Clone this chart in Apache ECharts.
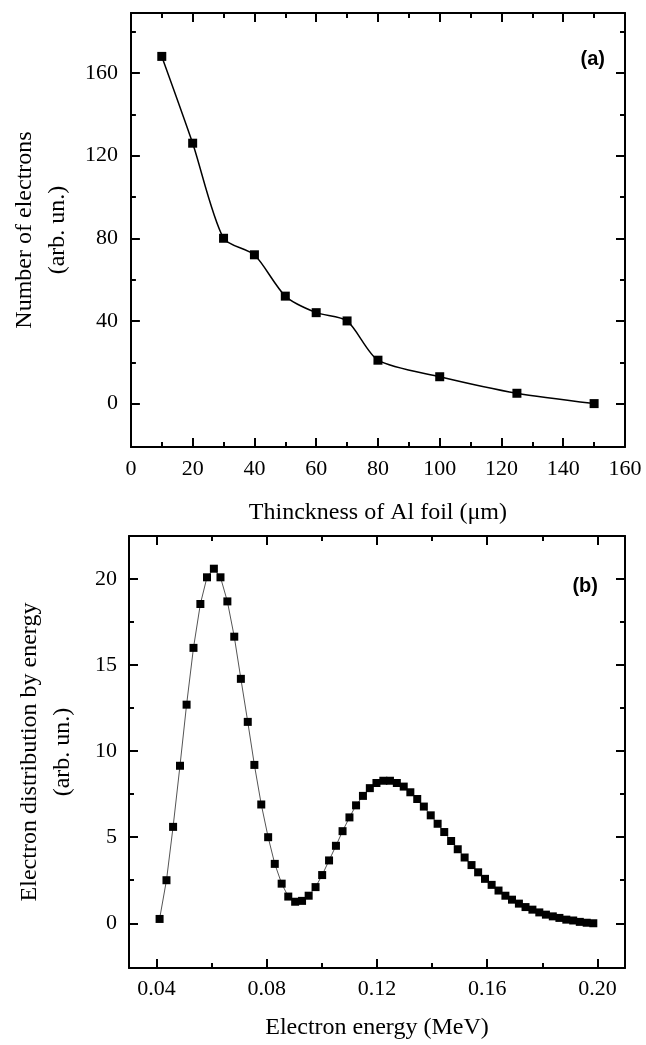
<!DOCTYPE html>
<html>
<head>
    <meta charset="utf-8">
    <script type="text/javascript" src="https://cdn.jsdelivr.net/npm/echarts@6/dist/echarts.min.js"></script>
</head>
<body style="margin: 0; background: #fff">
<div id="container" style="width: 646px; height: 1045px"></div>
<script type="text/javascript">
    // (a) number of electrons vs Al foil thickness
    var thickness = [10, 20, 30, 40, 50, 60, 70, 80, 100, 125, 150];
    var electrons = [168, 126, 80, 72, 52, 44, 40, 21, 13, 5, 0];

    // (b) electron distribution by energy
    var energy = [
        0.0411, 0.0436, 0.0460, 0.0485, 0.0509, 0.0534, 0.0559, 0.0583, 0.0608, 0.0632,
        0.0657, 0.0682, 0.0706, 0.0731, 0.0755, 0.0780, 0.0805, 0.0829, 0.0854, 0.0878,
        0.0903, 0.0928, 0.0952, 0.0977, 0.1001, 0.1026, 0.1051, 0.1075, 0.1100, 0.1124,
        0.1149, 0.1174, 0.1198, 0.1223, 0.1247, 0.1272, 0.1297, 0.1321, 0.1346, 0.1370,
        0.1395, 0.1420, 0.1444, 0.1469, 0.1493, 0.1518, 0.1543, 0.1567, 0.1592, 0.1616,
        0.1641, 0.1666, 0.1690, 0.1715, 0.1739, 0.1764, 0.1789, 0.1813, 0.1838, 0.1862,
        0.1887, 0.1912, 0.1936, 0.1961, 0.1985
    ];
    var distribution = [
        0.25, 2.5, 5.6, 9.15, 12.7, 16.0, 18.55, 20.1, 20.6, 20.1,
        18.7, 16.65, 14.2, 11.7, 9.2, 6.9, 5.0, 3.45, 2.3, 1.55,
        1.25, 1.3, 1.6, 2.1, 2.8, 3.65, 4.5, 5.35, 6.15, 6.85,
        7.4, 7.85, 8.15, 8.28, 8.28, 8.15, 7.94, 7.61, 7.22, 6.78,
        6.27, 5.78, 5.3, 4.78, 4.3, 3.82, 3.38, 2.96, 2.58, 2.23,
        1.9, 1.6, 1.37, 1.14, 0.94, 0.79, 0.63, 0.5, 0.4, 0.31,
        0.21, 0.16, 0.08, 0.03, 0.0
    ];

    // tick positions
    var yTicksA = [0, 40, 80, 120, 160];
    var yMinorA = [20, 60, 100, 140, 180];
    var yTicksB = [0, 5, 10, 15, 20];
    var yMinorB = [2.5, 7.5, 12.5, 17.5];
    var xTicksB = [0.04, 0.08, 0.12, 0.16, 0.20];
    var xMinorB = [0.06, 0.10, 0.14, 0.18];

    var serif = "'Liberation Serif', 'Times New Roman', serif";
    var black = '#000';

    function pairs(xs, ys) {
        return xs.map(function (x, i) { return [x, ys[i]]; });
    }

    // one axis of the frame; major ticks with labels or minor ticks only
    function axis(opt) {
        var a = {
            type: 'value',
            gridIndex: opt.grid,
            position: opt.position,
            min: opt.min,
            max: opt.max,
            axisLine: { show: opt.line, onZero: false, lineStyle: { color: black, width: 2 } },
            axisTick: { show: true, inside: true, length: opt.len, lineStyle: { color: black, width: 2 } },
            axisLabel: { show: !!opt.label, color: black, fontFamily: serif, fontSize: 22, margin: opt.margin || 10 },
            splitLine: { show: false }
        };
        if (opt.interval) a.interval = opt.interval;
        if (opt.ticks) {
            a.axisTick.customValues = opt.ticks;
            a.axisLabel.customValues = opt.ticks;
        }
        if (opt.minor) {
            a.minorTick = { show: true, splitNumber: 2, length: 5, lineStyle: { color: black, width: 2 } };
        }
        if (opt.fmt) a.axisLabel.formatter = opt.fmt;
        if (opt.name) {
            a.name = opt.name;
            a.nameLocation = 'middle';
            a.nameGap = opt.nameGap;
            a.nameTextStyle = { fontFamily: serif, fontSize: 24, color: black, lineHeight: 33 };
            if (opt.rotate) a.nameRotate = 90;
        }
        return a;
    }

    var fmt2 = function (v) { return v.toFixed(2); };

    var xAxes = [
        // panel (a)
        axis({ grid: 0, position: 'bottom', min: 0, max: 160, interval: 20, line: true, len: 9, label: true, minor: true, margin: 11,
               name: 'Thinckness of Al foil (\u03bcm)', nameGap: 49 }),
        axis({ grid: 0, position: 'top', min: 0, max: 160, interval: 20, line: true, len: 9, minor: true }),
        // panel (b)
        axis({ grid: 1, position: 'bottom', min: 0.03, max: 0.21, ticks: xTicksB, line: true, len: 9, label: true, fmt: fmt2, margin: 10,
               name: 'Electron energy (MeV)', nameGap: 43 }),
        axis({ grid: 1, position: 'bottom', min: 0.03, max: 0.21, ticks: xMinorB, line: false, len: 5 }),
        axis({ grid: 1, position: 'top', min: 0.03, max: 0.21, ticks: xTicksB, line: true, len: 9 }),
        axis({ grid: 1, position: 'top', min: 0.03, max: 0.21, ticks: xMinorB, line: false, len: 5 })
    ];

    var yAxes = [
        // panel (a)
        axis({ grid: 0, position: 'left', min: -21, max: 189, ticks: yTicksA, line: true, len: 9, label: true, margin: 13,
               name: 'Number of electrons\n(arb. un.)', nameGap: 50, rotate: true }),
        axis({ grid: 0, position: 'left', min: -21, max: 189, ticks: yMinorA, line: false, len: 5 }),
        axis({ grid: 0, position: 'right', min: -21, max: 189, ticks: yTicksA, line: true, len: 9 }),
        axis({ grid: 0, position: 'right', min: -21, max: 189, ticks: yMinorA, line: false, len: 5 }),
        // panel (b)
        axis({ grid: 1, position: 'left', min: -2.6, max: 22.5, ticks: yTicksB, line: true, len: 9, label: true, margin: 12,
               name: 'Electron distribution by energy\n(arb. un.)', nameGap: 50, rotate: true }),
        axis({ grid: 1, position: 'left', min: -2.6, max: 22.5, ticks: yMinorB, line: false, len: 5 }),
        axis({ grid: 1, position: 'right', min: -2.6, max: 22.5, ticks: yTicksB, line: true, len: 9 }),
        axis({ grid: 1, position: 'right', min: -2.6, max: 22.5, ticks: yMinorB, line: false, len: 5 })
    ];

    var dom = document.getElementById('container');
    var myChart = echarts.init(dom, null, { renderer: 'canvas' });

    var option = {
        animation: false,
        backgroundColor: '#fff',
        grid: [
            { left: 128, right: 21, top: 13, height: 434 },
            { left: 129, right: 21, top: 536, height: 436 }
        ],
        xAxis: xAxes,
        yAxis: yAxes,
        graphic: [
            { type: 'text', right: 41, top: 49, style: { text: '(a)', font: "bold 20px 'Liberation Sans', Arial, sans-serif", fill: black } },
            { type: 'text', right: 48, top: 576, style: { text: '(b)', font: "bold 20px 'Liberation Sans', Arial, sans-serif", fill: black } }
        ],
        series: [
            {
                type: 'line',
                xAxisIndex: 0,
                yAxisIndex: 0,
                data: pairs(thickness, electrons),
                smooth: 0.25,
                symbol: 'rect',
                symbolSize: 9,
                itemStyle: { color: black },
                lineStyle: { color: black, width: 1.5 }
            },
            {
                type: 'line',
                xAxisIndex: 2,
                yAxisIndex: 4,
                data: pairs(energy, distribution),
                symbol: 'rect',
                symbolSize: 8,
                itemStyle: { color: black },
                lineStyle: { color: '#555', width: 1 }
            }
        ]
    };

    myChart.setOption(option);
</script>
</body>
</html>
